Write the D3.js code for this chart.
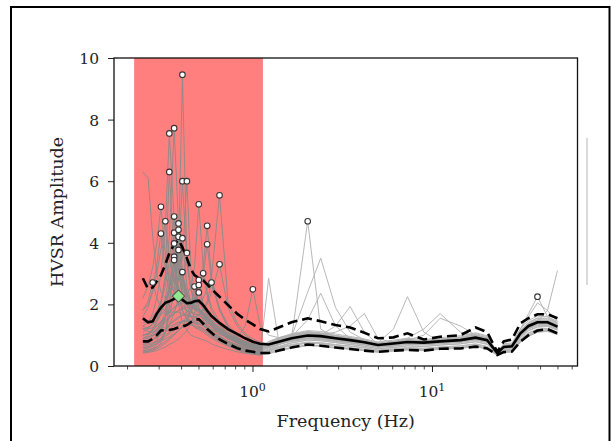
<!DOCTYPE html>
<html><head><meta charset="utf-8">
<script src="https://cdn.jsdelivr.net/npm/d3@7"></script>
<style>body{margin:0;background:#fff;} svg{display:block;}</style>
</head><body><svg id="c" width="611" height="441"></svg>
<script>
// ---------- DATA ----------
const freqs = [0.245,0.262,0.278,0.293,0.309,0.327,0.344,0.366,0.387,0.407,0.431,0.453,0.475,0.502,0.531,0.559,0.591,0.655,0.73,0.82,0.91,1.005,1.1,1.23,1.4,1.65,2.03,2.4,2.9,3.5,4.2,5.0,6.1,7.3,9.0,11.1,14.4,17.5,20.3,23.1,25.1,27.9,31.1,34.5,38.7,44,50];

const meanCurve = [1.55,1.42,1.45,1.7,1.9,2.05,2.1,2.18,2.27,2.15,2.04,2.05,2.1,2.12,1.98,1.8,1.62,1.4,1.2,1.04,0.9,0.79,0.72,
  0.70,0.79,0.90,0.99,0.97,0.90,0.84,0.77,0.68,0.73,0.78,0.76,0.80,0.84,0.92,0.84,0.42,0.62,0.64,1.06,1.30,1.42,1.42,1.28];
const upperCurve = [2.85,2.5,2.55,2.75,2.95,3.3,3.66,3.95,4.09,3.85,3.5,3.15,2.95,2.85,2.78,2.65,2.5,2.25,1.98,1.7,1.5,1.35,1.2,
  1.12,1.25,1.42,1.55,1.45,1.33,1.25,1.08,0.9,0.93,1.06,0.86,0.95,1.0,1.25,1.1,0.46,0.8,0.86,1.39,1.55,1.68,1.68,1.55];
const lowerCurve = [0.8,0.8,0.88,1.0,1.15,1.17,1.17,1.2,1.25,1.28,1.33,1.42,1.5,1.52,1.38,1.2,1.08,0.86,0.72,0.58,0.5,0.46,0.42,
  0.42,0.5,0.6,0.7,0.66,0.6,0.55,0.5,0.46,0.5,0.52,0.5,0.56,0.57,0.63,0.57,0.36,0.45,0.47,0.79,1.0,1.15,1.2,1.06];

const hvsrWindows = [
 [1.5,1.4,1.5,1.7,1.9,2.1,2.4,2.8,3.6,9.46,3.4,2.5,2.2,2.1,2.0,1.8,1.6,1.3,1.1,0.92,0.8,0.72,0.66, 0.72,0.85,1.0,1.1,1.05,0.98,0.9,0.82,0.72,0.78,0.85,0.8,0.86,0.92,1.02,0.92,0.44,0.66,0.7,1.2,1.6,2.05,1.8,1.45],
 [1.3,1.4,1.7,2.2,3.0,4.5,7.55,4.8,3.2,2.6,2.3,2.1,2.0,1.9,1.7,1.5,1.35,1.15,0.98,0.84,0.75,0.68,0.62, 0.6,0.7,0.82,0.9,0.88,0.82,0.76,0.7,0.75,1.2,2.25,1.1,0.78,0.82,0.9,0.8,0.41,0.6,0.62,1.0,1.25,1.4,1.4,1.25],
 [1.1,1.2,1.4,1.7,2.1,2.8,4.2,7.72,4.6,3.0,2.4,2.1,1.9,1.8,1.65,1.5,1.3,1.1,0.92,0.8,0.7,0.63,0.58, 0.55,0.68,0.95,1.5,2.36,1.3,0.9,0.78,0.68,0.72,0.78,0.74,0.8,0.84,0.9,0.82,0.42,0.6,0.63,1.05,1.3,1.42,1.42,1.3],
 [0.9,1.0,1.2,1.5,2.0,3.0,6.3,3.6,2.5,2.0,1.8,1.6,1.5,1.45,1.35,1.2,1.05,0.9,0.75,0.64,0.56,0.5,0.46, 0.48,0.56,0.66,0.74,0.72,0.65,0.6,0.54,0.48,0.52,0.56,0.53,0.58,0.6,0.66,0.58,0.36,0.46,0.48,0.82,1.02,1.15,1.18,1.08],
 [6.3,6.1,4.2,3.0,2.4,2.2,2.3,2.6,3.3,6.0,3.3,2.5,2.2,2.0,1.85,1.65,1.5,1.25,1.05,0.9,0.8,0.72,0.66, 0.7,0.78,0.88,0.96,0.95,0.88,0.82,0.76,0.68,0.72,0.78,0.75,0.8,0.84,0.92,0.85,0.42,0.62,0.65,1.05,1.3,1.45,1.8,3.1],
 [1.2,1.25,1.35,1.5,1.65,1.85,2.1,2.4,2.8,3.5,6.0,3.2,2.4,2.1,1.9,1.7,1.5,1.25,1.05,0.9,0.78,0.7,0.64, 0.66,0.76,0.9,1.0,0.98,0.9,0.85,0.78,0.7,0.74,0.8,0.78,0.82,0.86,0.95,0.86,0.43,0.63,0.66,1.08,1.32,1.46,1.45,1.3],
 [1.0,1.05,1.15,1.3,1.45,1.6,1.75,1.9,2.0,2.05,2.0,1.95,1.9,2.0,2.2,2.5,2.9,5.54,2.1,1.4,1.05,0.88,0.78, 0.72,0.82,0.92,1.02,1.0,1.1,1.3,1.7,0.9,0.75,0.8,0.77,0.82,0.85,0.94,0.86,0.42,0.62,0.65,1.06,1.3,1.42,1.44,1.3],
 [2.2,2.6,3.2,4.0,5.17,3.6,2.8,2.4,2.2,2.1,2.0,1.9,1.85,1.8,1.7,1.55,1.4,1.2,1.0,0.88,0.78,0.7,0.64, 0.75,0.88,1.02,1.12,1.08,1.0,0.92,0.85,0.74,0.8,0.86,0.82,0.88,0.94,1.05,0.95,0.45,0.7,0.72,1.15,1.42,1.56,1.55,1.4],
 [1.0,1.05,1.15,1.3,1.45,1.6,1.75,1.9,2.0,2.1,2.3,2.6,3.2,5.25,3.2,2.4,1.9,1.45,1.15,0.92,0.78,0.68,0.62, 0.62,0.75,0.95,2.4,3.5,1.9,1.1,0.85,0.7,0.74,0.8,0.76,0.82,0.86,0.94,0.85,0.42,0.62,0.64,1.05,1.3,1.42,1.42,1.28],
 [1.8,2.0,2.4,3.0,3.8,4.7,3.5,2.8,2.4,2.2,2.0,1.9,1.85,1.8,1.7,1.55,1.4,1.2,1.0,0.86,0.76,0.68,0.62, 0.68,0.8,0.9,0.98,0.96,0.9,0.84,0.76,0.66,0.7,0.76,0.74,0.78,0.82,0.9,0.82,0.41,0.6,0.62,1.02,1.26,1.4,1.4,1.26],
 [1.4,1.45,1.6,1.8,2.1,2.6,3.4,4.85,3.2,2.5,2.2,2.0,1.9,1.85,1.75,1.6,1.45,1.2,1.0,0.86,0.76,0.68,0.62, 0.78,0.9,1.02,1.1,1.06,0.98,0.9,0.82,0.72,0.78,0.9,1.2,1.7,1.1,0.98,0.9,0.44,0.66,0.68,1.12,1.36,1.5,1.48,1.34],
 [1.2,1.25,1.35,1.5,1.75,2.1,2.6,3.4,4.63,3.0,2.4,2.1,1.95,1.85,1.75,1.6,1.45,1.2,1.0,0.86,0.76,0.68,0.62, 0.62,0.72,0.84,0.92,0.9,0.84,0.78,0.72,0.64,0.68,0.74,0.72,0.76,0.8,0.88,0.8,0.41,0.6,0.62,1.02,1.26,1.38,1.38,1.24],
 [0.85,0.9,1.0,1.1,1.25,1.4,1.55,1.7,1.8,1.9,2.0,2.1,2.3,2.6,3.2,4.55,2.9,1.8,1.25,0.95,0.78,0.66,0.58, 0.64,0.74,0.86,0.96,1.0,1.3,1.93,1.1,0.7,0.74,0.8,0.76,0.8,0.84,0.92,0.84,0.42,0.62,0.64,1.06,1.3,1.42,1.42,1.28],
 [1.6,1.9,2.5,3.3,4.3,3.1,2.5,2.2,2.0,1.9,1.8,1.75,1.7,1.65,1.55,1.42,1.3,1.1,0.92,0.8,0.7,0.63,0.57, 0.8,0.92,1.05,1.15,1.12,1.04,0.96,0.88,0.78,0.84,0.9,0.86,0.92,0.98,1.08,0.98,0.46,0.72,0.75,1.2,1.48,1.62,1.6,1.45],
 [1.0,1.05,1.2,1.4,1.7,2.2,3.0,4.33,3.0,2.3,2.0,1.8,1.7,1.65,1.55,1.42,1.28,1.1,0.9,0.76,0.66,0.58,0.53, 0.66,0.75,0.86,0.94,0.92,0.86,0.8,0.74,0.66,0.7,0.76,0.74,0.78,0.82,0.9,0.82,0.42,0.61,0.63,1.04,1.28,1.4,1.4,1.27],
 [0.7,0.75,0.85,1.0,1.25,1.6,2.1,3.0,4.42,2.8,2.1,1.8,1.6,1.5,1.4,1.28,1.15,0.95,0.8,0.66,0.57,0.5,0.46, 0.55,0.64,0.76,0.84,0.82,0.76,0.7,0.64,0.56,0.6,0.65,0.63,0.68,0.72,0.78,0.7,0.38,0.52,0.55,0.92,1.14,1.26,1.28,1.16],
 [1.5,1.4,1.45,1.6,1.8,2.1,2.5,3.1,4.2,2.9,2.3,2.0,1.85,1.75,1.65,1.5,1.35,1.15,0.96,0.82,0.72,0.65,0.6, 0.74,0.84,0.96,1.04,1.02,0.94,0.88,0.8,0.7,0.76,0.82,0.8,0.84,0.88,0.96,0.88,0.43,0.64,0.66,1.08,1.34,1.46,1.46,1.32],
 [0.9,0.95,1.05,1.2,1.4,1.6,1.85,2.2,2.8,4.15,2.6,2.1,1.85,1.7,1.6,1.45,1.3,1.1,0.92,0.76,0.66,0.58,0.53, 0.6,0.7,0.8,0.88,0.86,0.8,0.74,0.68,0.6,0.64,0.7,0.68,0.72,0.76,0.84,0.76,0.4,0.57,0.6,0.98,1.2,1.32,1.32,1.2],
 [0.6,0.62,0.7,0.85,1.1,1.6,2.5,3.98,2.4,1.8,1.5,1.35,1.28,1.22,1.15,1.05,0.95,0.8,0.68,0.58,0.5,0.45,0.42, 0.52,0.6,0.7,0.78,0.76,0.7,0.65,0.6,0.52,0.56,0.6,0.58,0.62,0.66,0.72,0.64,0.37,0.5,0.52,0.88,1.08,1.2,1.22,1.1],
 [1.3,1.2,1.25,1.3,1.4,1.5,1.6,1.7,1.8,1.85,1.9,2.0,2.15,2.4,2.9,3.95,2.7,1.8,1.35,1.05,0.88,0.76,0.68, 0.74,0.86,0.98,1.06,1.04,0.96,0.9,0.82,0.72,0.78,0.84,1.0,1.55,1.3,1.0,0.9,0.43,0.64,0.67,1.1,1.34,1.48,1.46,1.32],
 [0.5,0.52,0.58,0.68,0.85,1.1,1.6,2.4,3.77,2.3,1.7,1.4,1.25,1.18,1.1,1.0,0.9,0.76,0.64,0.54,0.46,0.42,0.38, 0.45,0.52,0.6,0.68,0.66,0.6,0.56,0.5,0.46,0.5,0.53,0.5,0.55,0.58,0.63,0.56,0.35,0.44,0.46,0.78,0.96,1.1,1.14,1.04],
 [1.0,1.05,1.1,1.2,1.3,1.45,1.6,1.8,2.1,2.6,3.67,2.5,2.0,1.8,1.65,1.5,1.35,1.15,0.96,0.82,0.72,0.64,0.58, 0.7,0.8,0.92,1.02,1.0,0.92,0.86,0.8,0.7,0.74,0.8,0.78,0.82,0.86,0.94,0.86,0.42,0.63,0.65,1.07,1.32,1.44,1.44,1.3],
 [0.8,0.85,0.95,1.1,1.35,1.8,2.5,3.55,2.4,1.8,1.55,1.4,1.32,1.26,1.2,1.1,1.0,0.86,0.72,0.62,0.54,0.48,0.44, 0.62,0.72,0.82,0.9,0.88,0.82,0.76,0.7,0.62,0.66,0.72,0.7,0.74,0.78,0.86,0.78,0.4,0.58,0.6,1.0,1.22,1.36,1.36,1.22],
 [0.45,0.48,0.52,0.6,0.75,1.1,1.9,3.44,2.0,1.4,1.15,1.0,0.95,0.9,0.85,0.8,0.72,0.62,0.54,0.46,0.41,0.38,0.36, 2.85,0.8,0.8,0.88,0.86,0.8,0.76,0.7,0.62,0.66,0.72,0.7,0.74,0.78,0.86,0.78,0.4,0.58,0.6,0.98,1.22,1.34,1.34,1.2],
 [0.75,0.8,0.86,0.95,1.05,1.2,1.35,1.5,1.6,1.65,1.65,1.6,1.6,1.65,1.8,2.0,2.4,3.3,1.9,1.3,1.0,0.82,0.7, 0.72,0.84,0.96,1.06,1.04,0.96,0.9,0.82,0.72,0.78,0.84,0.8,0.86,0.9,0.98,0.88,0.43,0.65,0.68,1.1,1.36,1.5,1.48,1.34],
 [0.55,0.58,0.64,0.75,0.9,1.1,1.35,1.7,2.2,3.05,2.0,1.6,1.4,1.3,1.22,1.12,1.0,0.86,0.72,0.6,0.52,0.46,0.42, 0.5,0.58,0.68,0.76,0.74,0.68,0.64,0.58,0.5,0.54,0.58,0.56,0.6,0.64,0.7,0.62,0.37,0.49,0.52,0.86,1.06,1.18,1.2,1.08],
 [0.65,0.68,0.72,0.78,0.85,0.95,1.05,1.15,1.3,1.45,1.6,1.8,2.0,2.4,3.01,2.3,1.8,1.35,1.0,0.78,0.64,0.55,0.5, 0.6,0.7,0.82,0.92,0.9,0.84,0.78,0.72,0.64,0.68,0.74,0.72,0.76,0.8,0.88,0.8,0.41,0.59,0.61,1.01,1.25,1.38,1.38,1.24],
 [0.5,0.52,0.56,0.62,0.7,0.8,0.9,1.0,1.15,1.3,1.5,1.7,2.0,2.79,2.0,1.6,1.3,1.0,0.78,0.62,0.52,0.45,0.41, 0.52,0.62,0.74,0.84,0.82,0.76,0.7,0.64,0.56,0.6,0.66,0.64,0.68,0.72,0.8,0.72,0.39,0.54,0.56,0.94,1.16,1.28,1.3,1.17],
 [0.6,0.62,0.66,0.72,0.8,0.88,0.95,1.05,1.15,1.25,1.35,1.45,1.55,1.65,1.8,2.1,2.71,1.9,1.3,0.95,0.75,0.62,0.55, 0.6,0.72,0.86,0.96,0.95,0.88,0.82,0.76,0.68,0.72,0.78,0.75,0.8,0.84,0.92,0.84,0.42,0.62,0.64,1.05,1.3,1.42,1.42,1.28],
 [1.8,2.1,2.71,2.2,1.9,1.8,1.75,1.75,1.75,1.7,1.65,1.62,1.6,1.55,1.45,1.35,1.22,1.05,0.88,0.75,0.66,0.6,0.55, 0.64,0.76,0.9,1.0,0.98,0.9,0.84,0.78,0.7,0.75,0.8,0.78,0.82,0.86,0.94,0.85,0.42,0.63,0.65,1.08,1.33,1.46,1.45,1.3],
 [0.45,0.47,0.5,0.56,0.64,0.74,0.86,1.0,1.15,1.3,1.5,1.8,2.58,1.9,1.5,1.25,1.05,0.85,0.68,0.55,0.46,0.41,0.37, 0.42,0.5,0.6,0.68,0.66,0.6,0.56,0.52,0.46,0.5,0.54,0.52,0.56,0.6,0.66,0.58,0.36,0.46,0.48,0.8,1.0,1.12,1.15,1.05],
 [1.2,1.12,1.1,1.15,1.2,1.28,1.35,1.45,1.55,1.65,1.75,1.9,2.1,2.63,2.0,1.7,1.45,1.18,0.95,0.8,0.68,0.6,0.55, 0.68,0.78,0.9,1.0,0.98,0.92,0.86,0.8,0.7,0.74,0.8,0.78,0.82,0.86,0.94,0.86,0.43,0.63,0.66,1.08,1.32,1.45,1.45,1.3],
 [0.42,0.44,0.47,0.5,0.56,0.62,0.7,0.78,0.88,1.0,1.15,1.35,1.7,2.39,1.7,1.35,1.1,0.85,0.66,0.52,0.44,0.39,0.35, 0.4,0.48,0.58,0.66,0.64,0.58,0.54,0.5,0.44,0.48,0.52,0.5,0.54,0.58,0.62,0.56,0.35,0.44,0.46,0.78,0.98,1.1,1.12,1.02],
 [0.9,0.95,1.0,1.05,1.12,1.2,1.28,1.35,1.42,1.45,1.45,1.42,1.4,1.38,1.32,1.25,1.18,1.05,0.95,0.9,1.3,2.49,1.35, 1.0,0.92,1.0,1.08,1.05,0.98,0.92,0.84,0.74,0.8,0.86,0.82,0.88,0.92,1.0,0.9,0.44,0.66,0.7,1.12,1.4,1.55,1.52,1.38],
 [0.7,0.72,0.76,0.82,0.9,1.0,1.1,1.22,1.35,1.45,1.5,1.48,1.45,1.4,1.32,1.22,1.1,0.94,0.8,0.68,0.6,0.54,0.5, 0.62,0.7,0.9,4.70,1.2,0.9,0.8,0.72,0.65,0.7,0.75,0.72,0.78,0.82,0.88,0.8,0.41,0.6,0.62,1.0,1.25,1.4,1.38,1.25],
 [0.8,0.82,0.86,0.92,1.0,1.1,1.2,1.3,1.4,1.45,1.45,1.42,1.4,1.36,1.3,1.2,1.08,0.94,0.8,0.7,0.62,0.56,0.52, 0.62,0.72,0.85,0.95,0.92,0.85,0.8,0.72,0.66,0.7,0.76,0.74,0.8,0.86,0.92,0.86,0.42,0.65,0.7,1.2,1.7,2.25,1.6,1.4]
];

const peakFreqs = [0.407,0.344,0.366,0.344,0.407,0.431,0.655,0.309,0.502,0.327,0.366,0.387,0.559,0.309,0.366,0.387,0.387,0.407,0.366,0.559,0.387,0.431,0.366,0.366,0.655,0.407,0.531,0.502,0.591,0.278,0.475,0.502,0.502,1.005,2.03,38.7];
const peakAmps  = [9.46,7.55,7.72,6.3,6.0,6.0,5.54,5.17,5.25,4.7,4.85,4.63,4.55,4.3,4.33,4.42,4.2,4.15,3.98,3.95,3.77,3.67,3.55,3.44,3.3,3.05,3.01,2.79,2.71,2.71,2.58,2.63,2.39,2.49,4.7,2.25];

const meanPeakFreq = [0.387];
const meanPeakAmp = [2.27];
const rejectBand = [0.219, 1.143];

const yTicks = [0, 2, 4, 6, 8, 10];
const xMajorTicks = [1, 10];
const xMajorExp = ["0", "1"];
const xMinorTicks = [0.2,0.3,0.4,0.5,0.6,0.7,0.8,0.9,2,3,4,5,6,7,8,9,20,30,40,50,60];

// ---------- DRAW ----------
const FONT = "'DejaVu Serif', serif";
const svg = d3.select('#c');
const M = {l: 114, r: 577.5, t: 58, b: 366};
const x = d3.scaleLog().domain([0.1692, 64.66]).range([M.l, M.r]);
const y = d3.scaleLinear().domain([0, 10]).range([M.b, M.t]);

// figure border
svg.append('rect').attr('x', 11).attr('y', 7).attr('width', 598.5).attr('height', 480)
  .attr('fill', 'none').attr('stroke', '#000').attr('stroke-width', 2);

const defs = svg.append('defs');
defs.append('clipPath').attr('id', 'plot').append('rect')
  .attr('x', M.l).attr('y', M.t).attr('width', M.r - M.l).attr('height', M.b - M.t);
defs.append('clipPath').attr('id', 'inband').append('rect')
  .attr('x', x(rejectBand[0])).attr('y', M.t).attr('width', x(rejectBand[1]) - x(rejectBand[0])).attr('height', M.b - M.t);
const ob = defs.append('clipPath').attr('id', 'outband');
ob.append('rect').attr('x', M.l).attr('y', M.t).attr('width', x(rejectBand[0]) - M.l).attr('height', M.b - M.t);
ob.append('rect').attr('x', x(rejectBand[1])).attr('y', M.t).attr('width', M.r - x(rejectBand[1])).attr('height', M.b - M.t);

// rejected band
svg.append('rect').attr('x', x(rejectBand[0])).attr('y', M.t)
  .attr('width', x(rejectBand[1]) - x(rejectBand[0])).attr('height', M.b - M.t)
  .attr('fill', '#ff7f7f');

const line = d3.line().x((d, i) => x(freqs[i])).y(d => y(d));

svg.append('g').attr('clip-path', 'url(#inband)')
  .selectAll('path').data(hvsrWindows).join('path')
  .attr('d', line).attr('fill', 'none').attr('stroke', '#8a8a8a').attr('stroke-width', 0.9);
svg.append('g').attr('clip-path', 'url(#outband)')
  .selectAll('path').data(hvsrWindows).join('path')
  .attr('d', line).attr('fill', 'none').attr('stroke', '#b0b0b0').attr('stroke-width', 0.9);

const stats = svg.append('g').attr('clip-path', 'url(#plot)');
stats.append('path').attr('d', line(upperCurve)).attr('fill', 'none').attr('stroke', '#000')
  .attr('stroke-width', 2.6).attr('stroke-dasharray', '10,5');
stats.append('path').attr('d', line(lowerCurve)).attr('fill', 'none').attr('stroke', '#000')
  .attr('stroke-width', 2.6).attr('stroke-dasharray', '10,5');
stats.append('path').attr('d', line(meanCurve)).attr('fill', 'none').attr('stroke', '#000')
  .attr('stroke-width', 2.6);

// window peaks
svg.append('g').selectAll('circle').data(peakFreqs).join('circle')
  .attr('cx', d => x(d)).attr('cy', (d, i) => y(peakAmps[i])).attr('r', 2.8)
  .attr('fill', '#fff').attr('stroke', '#333').attr('stroke-width', 1.1);

// mean peak diamond
svg.append('g').selectAll('path').data(meanPeakFreq).join('path')
  .attr('d', d3.symbol().type(d3.symbolDiamond2).size(95))
  .attr('transform', (d, i) => `translate(${x(d)},${y(meanPeakAmp[i])})`)
  .attr('fill', '#8fe88f').attr('stroke', '#333').attr('stroke-width', 1);

// axes
const yAxis = svg.append('g').attr('transform', `translate(${M.l},0)`)
  .call(d3.axisLeft(y).tickValues(yTicks).tickSize(6).tickPadding(9).tickFormat(d3.format('d')));
yAxis.select('.domain').remove();
yAxis.selectAll('text').attr('font-family', FONT).attr('font-size', 15.5).attr('fill', '#222').attr('dy', '0.36em');
yAxis.selectAll('line').attr('stroke', '#222').attr('stroke-width', 1);

const xMaj = svg.append('g').attr('transform', `translate(0,${M.b})`)
  .call(d3.axisBottom(x).tickValues(xMajorTicks).tickSize(6).tickFormat(''));
xMaj.select('.domain').remove();
xMaj.selectAll('line').attr('stroke', '#222').attr('stroke-width', 1);
const xMin = svg.append('g').attr('transform', `translate(0,${M.b})`)
  .call(d3.axisBottom(x).tickValues(xMinorTicks).tickSize(3.5).tickFormat(''));
xMin.select('.domain').remove();
xMin.selectAll('line').attr('stroke', '#222').attr('stroke-width', 0.8);

const xl = svg.append('g').selectAll('text').data(xMajorTicks).join('text')
  .attr('x', d => x(d)).attr('y', 397).attr('text-anchor', 'middle')
  .attr('font-family', FONT).attr('font-size', 15.5).attr('fill', '#222');
xl.append('tspan').text('10');
xl.append('tspan').attr('font-size', 11).attr('dy', -6).text((d, i) => xMajorExp[i]);

// spines
svg.append('rect').attr('x', M.l).attr('y', M.t).attr('width', M.r - M.l).attr('height', M.b - M.t)
  .attr('fill', 'none').attr('stroke', '#111').attr('stroke-width', 1.3);

// labels
svg.append('text').attr('x', (M.l + M.r) / 2).attr('y', 427).attr('text-anchor', 'middle')
  .attr('font-family', FONT).attr('font-size', 17.5).attr('fill', '#222').text('Frequency (Hz)');
svg.append('text').attr('transform', `translate(63,${(M.t + M.b) / 2}) rotate(-90)`)
  .attr('text-anchor', 'middle').attr('font-family', FONT).attr('font-size', 17.5).attr('fill', '#222')
  .text('HVSR Amplitude');

// faint vertical bar on the right
svg.append('line').attr('x1', 587).attr('x2', 587).attr('y1', 138).attr('y2', 285)
  .attr('stroke', '#d6d6d6').attr('stroke-width', 1.8);
</script>
</body></html>
